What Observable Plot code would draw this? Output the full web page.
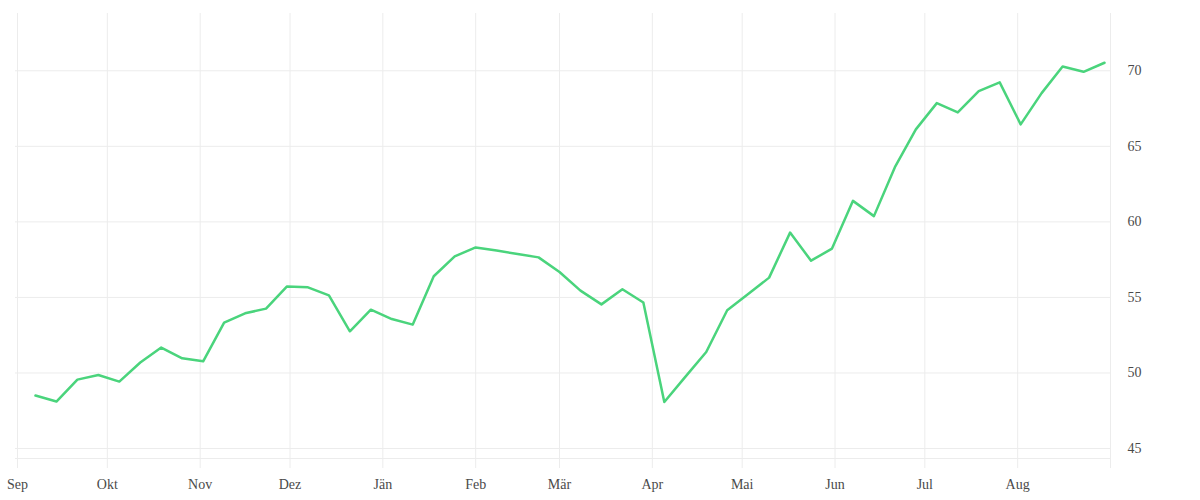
<!DOCTYPE html>
<html>
<head>
<meta charset="utf-8">
<script src="https://cdn.jsdelivr.net/npm/d3@7"></script>
<script src="https://cdn.jsdelivr.net/npm/@observablehq/plot@0.6"></script>
<style>
  html, body { margin: 0; padding: 0; background: #fff; }
  #chart svg { display: block; }
</style>
</head>
<body>
<div id="chart"></div>
<script>
// Weekly series starting 2018-09-07
const startDate = "2018-09-07";
const values = [
  48.51, 48.11, 49.56, 49.87, 49.43, 50.69, 51.68, 50.97, 50.77, 53.33,
  53.95, 54.26, 55.73, 55.67, 55.14, 52.76, 54.19, 53.57, 53.20, 56.40,
  57.72, 58.31, 58.10, 57.87, 57.65, 56.68, 55.45, 54.54, 55.54, 54.66,
  48.08, 49.74, 51.39, 54.15, 55.22, 56.31, 59.29, 57.43, 58.23, 61.39,
  60.38, 63.62, 66.12, 67.86, 67.24, 68.65, 69.23, 66.45, 68.52, 70.28,
  69.93, 70.53
];
const monthStarts = [
  "2018-09-01", "2018-10-01", "2018-11-01", "2018-12-01", "2019-01-01", "2019-02-01",
  "2019-03-01", "2019-04-01", "2019-05-01", "2019-06-01", "2019-07-01", "2019-08-01",
  "2019-09-01"
];
const monthLabels = ["Sep", "Okt", "Nov", "Dez", "Jän", "Feb", "Mär", "Apr", "Mai", "Jun", "Jul", "Aug"];
const yTicks = [45, 50, 55, 60, 65, 70];
const yDomain = [44.34, 73.79];

const t0 = new Date(startDate + "T00:00:00Z");
const data = values.map((v, i) => ({date: d3.utcDay.offset(t0, 7 * i), value: v}));
const monthDates = monthStarts.map(s => new Date(s + "T00:00:00Z"));
const labelDates = monthDates.slice(0, monthLabels.length);

const gridColor = "#ececec";
const textColor = "#4a4a4a";

const chart = Plot.plot({
  width: 1200,
  height: 500,
  marginLeft: 17,
  marginRight: 90,
  marginTop: 13,
  marginBottom: 42,
  style: {fontFamily: "'Liberation Serif', serif", fontSize: "14px", color: textColor, background: "#fff"},
  x: {type: "utc", domain: [monthDates[0], monthDates[monthDates.length - 1]]},
  y: {domain: yDomain},
  marks: [
    Plot.ruleX(monthDates, {stroke: gridColor, strokeWidth: 1, insetBottom: -10}),
    Plot.ruleY(yTicks, {stroke: gridColor, strokeWidth: 1, insetLeft: -2}),
    Plot.ruleY([yDomain[0]], {stroke: gridColor, strokeWidth: 1, insetLeft: -2}),
    Plot.axisX(labelDates, {
      tickSize: 0,
      tickPadding: 21,
      tickFormat: d => monthLabels[labelDates.findIndex(m => +m === +d)],
      fill: textColor,
      fontSize: 14,
      label: null
    }),
    Plot.axisY(yTicks, {
      anchor: "right",
      tickSize: 0,
      tickPadding: 17,
      textAnchor: "start",
      fill: textColor,
      fontSize: 14,
      label: null
    }),
    Plot.line(data, {x: "date", y: "value", stroke: "#4ad47c", strokeWidth: 2.5, strokeLinejoin: "round"})
  ]
});
document.getElementById("chart").appendChild(chart);
</script>
</body>
</html>
